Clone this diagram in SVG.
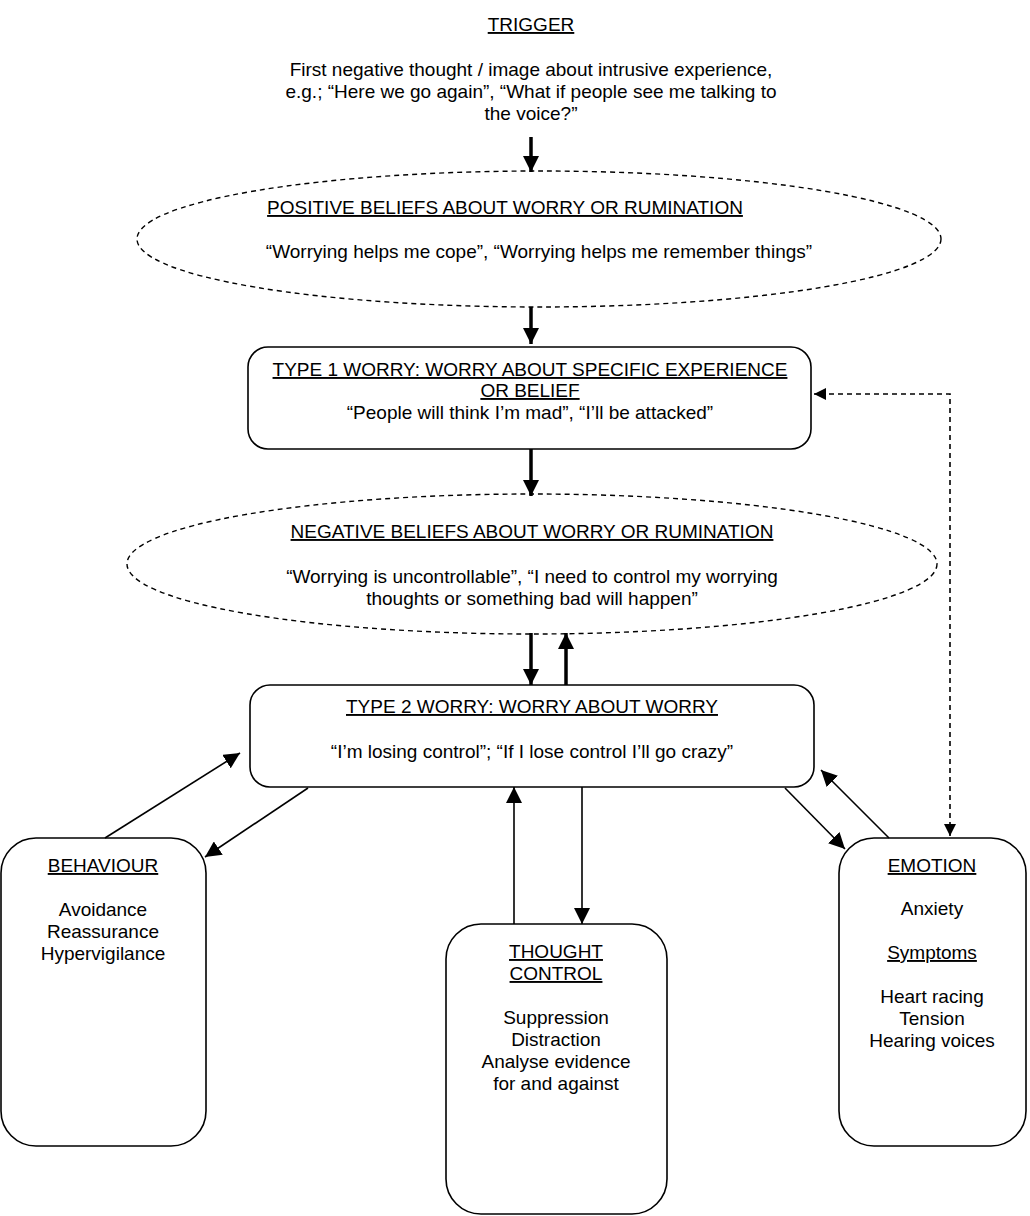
<svg xmlns="http://www.w3.org/2000/svg" width="1030" height="1216" viewBox="0 0 1030 1216">
<style>
text{font-family:"Liberation Sans",Arial,sans-serif;font-size:19px;fill:#000;text-anchor:middle}
.u{text-decoration:underline}
.box{fill:#fff;stroke:#000;stroke-width:1.6}
.ell{fill:none;stroke:#000;stroke-width:1.4;stroke-dasharray:5 4}
.thick{stroke:#000;stroke-width:3.5;fill:none}
.thin{stroke:#000;stroke-width:1.6;fill:none}
.dash{stroke:#000;stroke-width:1.6;fill:none;stroke-dasharray:5 4}
</style>
<defs>
<marker id="ah" markerUnits="userSpaceOnUse" markerWidth="18" markerHeight="16" refX="16" refY="8" orient="auto">
<path d="M0,0 L16,8 L0,16 Z" fill="#000"/>
</marker>
<marker id="ahd" markerUnits="userSpaceOnUse" markerWidth="14" markerHeight="14" refX="12" refY="6" orient="auto-start-reverse">
<path d="M0,0 L12,6 L0,12 Z" fill="#000"/>
</marker>
</defs>
<g id="trigger">
<text x="531" y="31" class="u">TRIGGER</text>
<text x="531" y="76">First negative thought / image about intrusive experience,</text>
<text x="531" y="98">e.g.; “Here we go again”, “What if people see me talking to</text>
<text x="531" y="120">the voice?”</text>
</g>
<g id="positive-beliefs">
<ellipse class="ell" cx="539" cy="239" rx="402" ry="68"/>
<text x="505" y="214" class="u">POSITIVE BELIEFS ABOUT WORRY OR RUMINATION</text>
<text x="539" y="258">“Worrying helps me cope”, “Worrying helps me remember things”</text>
</g>
<g id="type1">
<rect class="box" x="248" y="347" width="563" height="102" rx="20"/>
<text x="530" y="376" class="u">TYPE 1 WORRY: WORRY ABOUT SPECIFIC EXPERIENCE</text>
<text x="530" y="397" class="u">OR BELIEF</text>
<text x="530" y="419">“People will think I’m mad”, “I’ll be attacked”</text>
</g>
<g id="negative-beliefs">
<ellipse class="ell" cx="532" cy="564" rx="405" ry="70"/>
<text x="532" y="538" class="u">NEGATIVE BELIEFS ABOUT WORRY OR RUMINATION</text>
<text x="532" y="583">“Worrying is uncontrollable”, “I need to control my worrying</text>
<text x="532" y="605">thoughts or something bad will happen”</text>
</g>
<g id="type2">
<rect class="box" x="250" y="685" width="564" height="102" rx="20"/>
<text x="532" y="713" class="u">TYPE 2 WORRY: WORRY ABOUT WORRY</text>
<text x="532" y="758">“I’m losing control”; “If I lose control I’ll go crazy”</text>
</g>
<g id="behaviour">
<rect class="box" x="1" y="838" width="205" height="308" rx="35"/>
<text x="103" y="872" class="u">BEHAVIOUR</text>
<text x="103" y="916">Avoidance</text>
<text x="103" y="938">Reassurance</text>
<text x="103" y="960">Hypervigilance</text>
</g>
<g id="thought-control">
<rect class="box" x="446" y="924" width="221" height="290" rx="35"/>
<text x="556" y="958" class="u">THOUGHT</text>
<text x="556" y="980" class="u">CONTROL</text>
<text x="556" y="1024">Suppression</text>
<text x="556" y="1046">Distraction</text>
<text x="556" y="1068">Analyse evidence</text>
<text x="556" y="1090">for and against</text>
</g>
<g id="emotion">
<rect class="box" x="839" y="838" width="187" height="308" rx="35"/>
<text x="932" y="872" class="u">EMOTION</text>
<text x="932" y="915">Anxiety</text>
<text x="932" y="959" class="u">Symptoms</text>
<text x="932" y="1003">Heart racing</text>
<text x="932" y="1025">Tension</text>
<text x="932" y="1047">Hearing voices</text>
</g>
<g id="connectors">
<line class="thick" x1="531" y1="137" x2="531" y2="172" marker-end="url(#ah)"/>
<line class="thick" x1="531" y1="307" x2="531" y2="344" marker-end="url(#ah)"/>
<line class="thick" x1="531" y1="449" x2="531" y2="496" marker-end="url(#ah)"/>
<line class="thick" x1="531" y1="633" x2="531" y2="685" marker-end="url(#ah)"/>
<line class="thick" x1="566" y1="685" x2="566" y2="633" marker-end="url(#ah)"/>
<line class="thin" x1="105" y1="838" x2="240" y2="753" marker-end="url(#ah)"/>
<line class="thin" x1="308" y1="788" x2="205" y2="857" marker-end="url(#ah)"/>
<line class="thin" x1="514" y1="924" x2="514" y2="787" marker-end="url(#ah)"/>
<line class="thin" x1="582" y1="787" x2="582" y2="924" marker-end="url(#ah)"/>
<line class="thin" x1="785" y1="788" x2="845" y2="849" marker-end="url(#ah)"/>
<line class="thin" x1="889" y1="838" x2="821" y2="770" marker-end="url(#ah)"/>
<polyline class="dash" points="950,836 950,394 814,394" marker-start="url(#ahd)" marker-end="url(#ahd)"/>
</g>
</svg>
